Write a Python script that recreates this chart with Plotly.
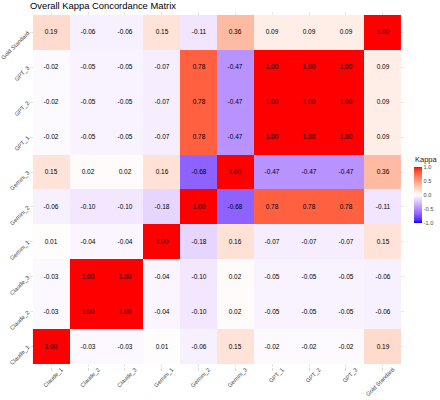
import plotly.graph_objects as go

labels = ["Claude_1", "Claude_2", "Claude_3", "Gemini_1", "Gemini_2", "Gemini_3",
          "GPT_1", "GPT_2", "GPT_3", "Gold Standard"]

row_claude_1 = [1.00, -0.03, -0.03, 0.01, -0.06, 0.15, -0.02, -0.02, -0.02, 0.19]
row_claude_2 = [-0.03, 1.00, 1.00, -0.04, -0.10, 0.02, -0.05, -0.05, -0.05, -0.06]
row_claude_3 = [-0.03, 1.00, 1.00, -0.04, -0.10, 0.02, -0.05, -0.05, -0.05, -0.06]
row_gemini_1 = [0.01, -0.04, -0.04, 1.00, -0.18, 0.16, -0.07, -0.07, -0.07, 0.15]
row_gemini_2 = [-0.06, -0.10, -0.10, -0.18, 1.00, -0.68, 0.78, 0.78, 0.78, -0.11]
row_gemini_3 = [0.15, 0.02, 0.02, 0.16, -0.68, 1.00, -0.47, -0.47, -0.47, 0.36]
row_gpt_1 = [-0.02, -0.05, -0.05, -0.07, 0.78, -0.47, 1.00, 1.00, 1.00, 0.09]
row_gpt_2 = [-0.02, -0.05, -0.05, -0.07, 0.78, -0.47, 1.00, 1.00, 1.00, 0.09]
row_gpt_3 = [-0.02, -0.05, -0.05, -0.07, 0.78, -0.47, 1.00, 1.00, 1.00, 0.09]
row_gold = [0.19, -0.06, -0.06, 0.15, -0.11, 0.36, 0.09, 0.09, 0.09, 1.00]

z = [row_claude_1, row_claude_2, row_claude_3, row_gemini_1, row_gemini_2,
     row_gemini_3, row_gpt_1, row_gpt_2, row_gpt_3, row_gold]

cbar_ticks = [-1.0, -0.5, 0.0, 0.5, 1.0]
cbar_title = "Kappa"


# --- Lab interpolation for a ggplot-like gradient2 colorscale ---
def srgb_to_lin(c):
    c = c / 255.0
    return c / 12.92 if c <= 0.04045 else ((c + 0.055) / 1.055) ** 2.4


def lin_to_srgb(c):
    c = max(0.0, min(1.0, c))
    v = 12.92 * c if c <= 0.0031308 else 1.055 * c ** (1 / 2.4) - 0.055
    return int(round(max(0, min(1, v)) * 255))


def rgb_to_lab(rgb):
    r, g, b = [srgb_to_lin(v) for v in rgb]
    x = (0.4124 * r + 0.3576 * g + 0.1805 * b) / 0.95047
    y = (0.2126 * r + 0.7152 * g + 0.0722 * b) / 1.0
    zz = (0.0193 * r + 0.1192 * g + 0.9505 * b) / 1.08883

    def f(t):
        return t ** (1 / 3) if t > 0.008856 else 7.787 * t + 16 / 116
    fx, fy, fz = f(x), f(y), f(zz)
    return (116 * fy - 16, 500 * (fx - fy), 200 * (fy - fz))


def lab_to_rgb(lab):
    L, a, b = lab
    fy = (L + 16) / 116
    fx = fy + a / 500
    fz = fy - b / 200

    def finv(t):
        return t ** 3 if t ** 3 > 0.008856 else (t - 16 / 116) / 7.787
    x, y, zz = finv(fx) * 0.95047, finv(fy), finv(fz) * 1.08883
    r = 3.2406 * x - 1.5372 * y - 0.4986 * zz
    g = -0.9689 * x + 1.8758 * y + 0.0415 * zz
    bb = 0.0557 * x - 0.2040 * y + 1.0570 * zz
    return (lin_to_srgb(r), lin_to_srgb(g), lin_to_srgb(bb))


blue = rgb_to_lab((0, 0, 255))
white = rgb_to_lab((255, 255, 255))
red = rgb_to_lab((255, 0, 0))

colorscale = []
n = 20
for i in range(n + 1):
    t = i / n
    v = -1 + 2 * t
    if v < 0:
        s = -v
        lab = tuple(white[k] + (blue[k] - white[k]) * s for k in range(3))
    else:
        s = v
        lab = tuple(white[k] + (red[k] - white[k]) * s for k in range(3))
    r, g, b = lab_to_rgb(lab)
    colorscale.append([t, f"rgb({r},{g},{b})"])

fig = go.Figure(go.Heatmap(
    z=z, x=list(range(len(labels))), y=list(range(len(labels))),
    zmin=-1, zmax=1, colorscale=colorscale,
    texttemplate="%{z:.2f}", textfont=dict(size=6.5, color="black"),
    colorbar=dict(
        tickvals=cbar_ticks, ticktext=[f"{v:.1f}" for v in cbar_ticks],
        tickfont=dict(size=5.6, color="#4d4d4d"),
        thickness=8, thicknessmode="pixels", len=56, lenmode="pixels",
        x=(414 - 30) / 374, xanchor="left", y=(367 - 195) / 355, yanchor="middle",
        outlinewidth=0, ticks="", ticklen=0, xpad=0, ypad=0,
    ),
    hoverongaps=False,
))

axis_common = dict(
    tickmode="array", tickvals=list(range(len(labels))), ticktext=labels,
    tickangle=-45, tickfont=dict(size=5.8, color="#4d4d4d"),
    showgrid=True, gridcolor="#e6e6e6", gridwidth=1, zeroline=False,
    ticks="outside", ticklen=3, tickcolor="#d9d9d9", tickwidth=1,
    showline=False, automargin=False,
)

fig.update_layout(
    width=440, height=400,
    margin=dict(l=30, r=36, t=12, b=33, autoexpand=False),
    paper_bgcolor="white", plot_bgcolor="white",
    font=dict(family="Liberation Sans, Arial, sans-serif"),
    title=dict(text="Overall Kappa Concordance Matrix", x=30 / 440, xref="container",
               xanchor="left", y=1 - 6 / 400, yref="container", yanchor="middle",
               font=dict(size=9.4, color="black")),
    xaxis=dict(range=[-0.58, 9.58], ticklabelstandoff=-7, ticklabelshift=10, **axis_common),
    yaxis=dict(range=[-0.585, 9.585], ticklabelstandoff=-3, **axis_common),
    annotations=[dict(text=cbar_title, xref="paper", yref="paper",
                      x=(413 - 30) / 374, y=(367 - 159.5) / 355,
                      xanchor="left", yanchor="middle", showarrow=False,
                      font=dict(size=7.5, color="#1a1a1a"))],
)

fig.write_html("out.html", config={"displayModeBar": False},
               post_script="document.body.style.margin='0';document.body.style.padding='0';")
